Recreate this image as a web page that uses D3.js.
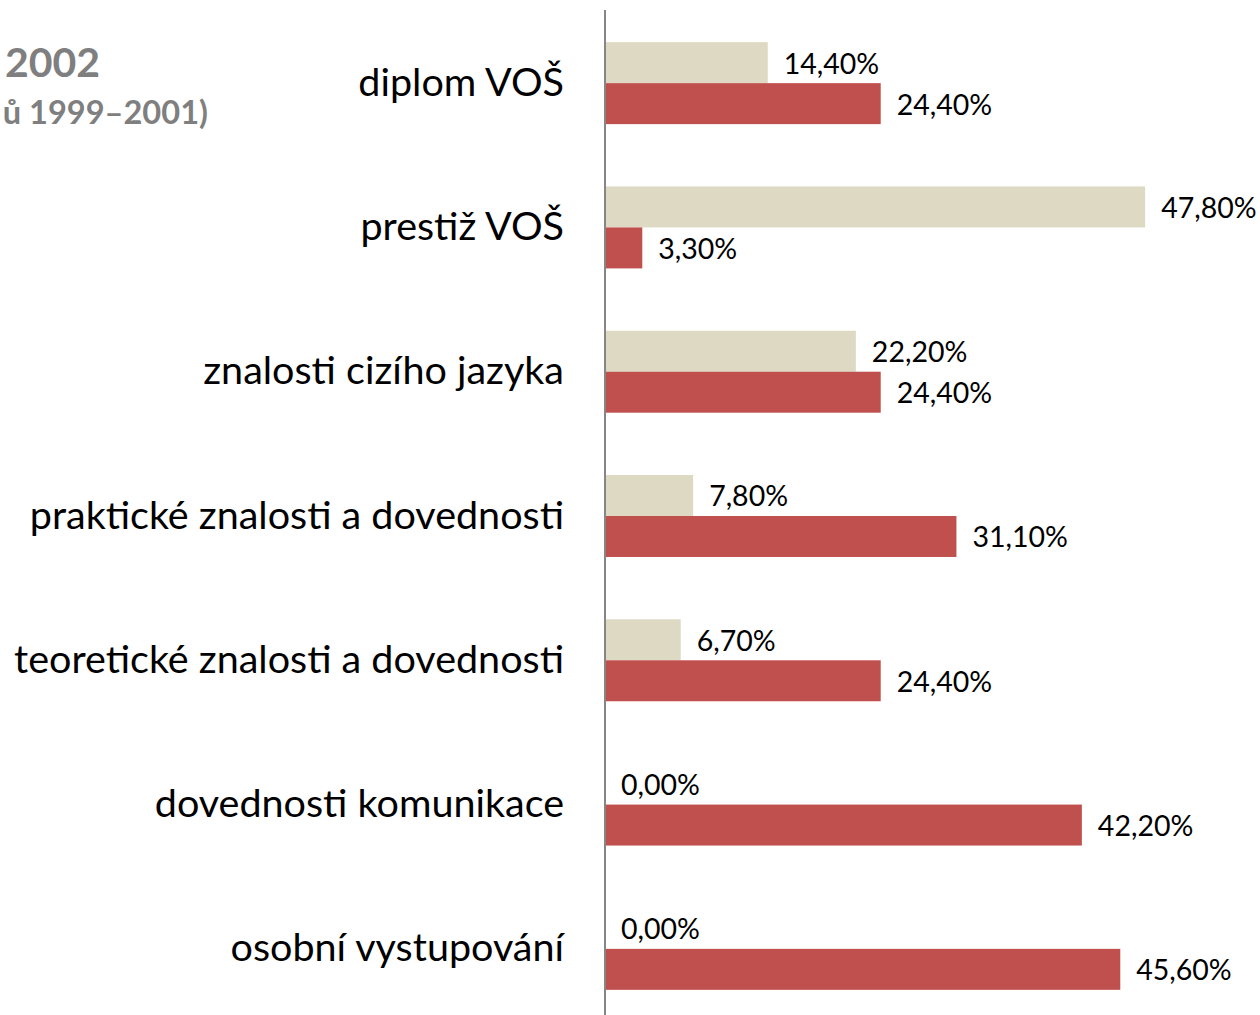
<!DOCTYPE html>
<html>
<head>
<meta charset="utf-8">
<script src="https://cdn.jsdelivr.net/npm/d3@7"></script>
<style>
  body { margin: 0; background: #fff; }
  svg { display: block; font-family: Lato, 'Open Sans', sans-serif; }
</style>
</head>
<body>
<script>
// categories, top to bottom
const categories = [
  'diplom VOŠ',
  'prestiž VOŠ',
  'znalosti cizího jazyka',
  'praktické znalosti a dovednosti',
  'teoretické znalosti a dovednosti',
  'dovednosti komunikace',
  'osobní vystupování'
]
// beige series (upper bar) and red series (lower bar), in %
const series1999 = [14.4, 47.8, 22.2, 7.8, 6.7, 0.0, 0.0]
const series2002 = [24.4, 3.3, 24.4, 31.1, 24.4, 42.2, 45.6]
const seriesNames = ['s1999', 's2002']
const colors = ['#ddd9c3', '#c0504d']

const width = 1260
const height = 1015
const x0 = 605

const svg = d3.select('body').append('svg')
  .attr('width', width)
  .attr('height', height)

const x = d3.scaleLinear().domain([0, 10]).range([x0, x0 + 113])

const y = d3.scaleBand()
  .domain(categories)
  .range([11, 1021])
  .paddingInner(0.432)
  .paddingOuter(0.216)

const ySub = d3.scaleBand()
  .domain(seriesNames)
  .range([0, y.bandwidth()])

const rows = categories.map((c, i) => ({
  cat: c,
  vals: [series1999[i], series2002[i]]
}))

// bars
const groups = svg.selectAll('g.row')
  .data(rows)
  .enter()
  .append('g')
  .attr('class', 'row')
  .attr('transform', d => 'translate(0,' + y(d.cat) + ')')

groups.selectAll('rect')
  .data(d => d.vals.map((v, k) => ({ v: v, s: seriesNames[k], k: k })))
  .enter()
  .append('rect')
  .attr('x', x(0))
  .attr('y', d => ySub(d.s))
  .attr('width', d => x(d.v) - x(0))
  .attr('height', ySub.bandwidth())
  .attr('fill', d => colors[d.k])

// value labels
groups.selectAll('text.val')
  .data(d => d.vals.map((v, k) => ({ v: v, s: seriesNames[k] })))
  .enter()
  .append('text')
  .attr('class', 'val')
  .attr('x', d => x(d.v) + 16)
  .attr('y', d => ySub(d.s) + ySub.bandwidth() / 2 + 1)
  .attr('dy', '0.35em')
  .style('font-size', '28.5px')
  .style('fill', '#000')
  .text(d => d.v.toFixed(2).replace('.', ',') + '%')

// category axis
const yAxis = d3.axisLeft(y).tickSize(0).tickPadding(41)
const ax = svg.append('g')
  .attr('transform', 'translate(' + x0 + ',0)')
  .call(yAxis)
ax.select('.domain').remove()
ax.selectAll('text')
  .style('font-family', 'Lato, sans-serif')
  .style('font-size', '39.5px')
  .style('fill', '#000')

svg.append('line')
  .attr('x1', x0).attr('x2', x0)
  .attr('y1', 10).attr('y2', height)
  .attr('stroke', '#868686')
  .attr('stroke-width', 2)

// partially visible title at top left
svg.append('text')
  .attr('x', 100).attr('y', 77)
  .attr('text-anchor', 'end')
  .style('font-size', '41px').style('font-weight', 'bold')
  .style('fill', '#7f7f7f')
  .text('2002')
svg.append('text')
  .attr('x', 208).attr('y', 124)
  .attr('text-anchor', 'end')
  .style('font-size', '32.6px').style('font-weight', 'bold')
  .style('fill', '#7f7f7f')
  .text('ů 1999–2001)')
</script>
</body>
</html>
